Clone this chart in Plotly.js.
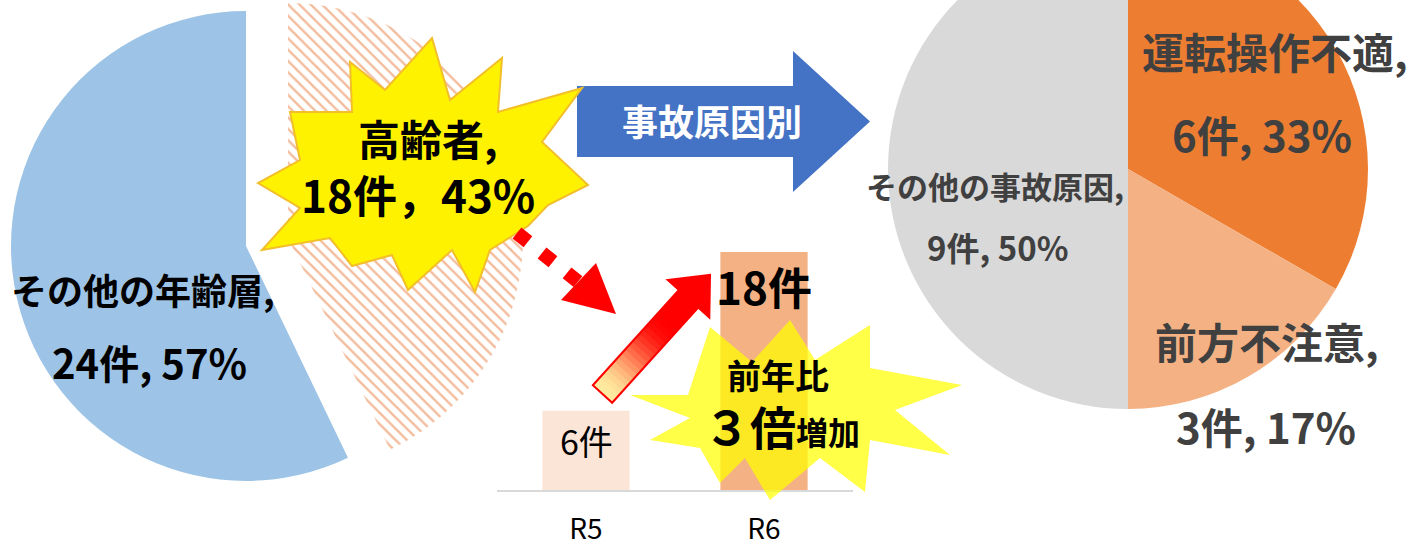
<!DOCTYPE html>
<html><head><meta charset="utf-8">
<script src="https://cdn.plot.ly/plotly-3.0.1.min.js"></script>
<style>
html,body{margin:0;padding:0;overflow:hidden;background:#fff;width:1423px;height:547px;position:relative}
#chart{position:absolute;left:0;top:-80px;width:1423px;height:627px}
</style>
</head><body><div id="chart"></div>
<script>
// ---- data ----
const ageLabels = ['高齢者', 'その他の年齢層'];
const ageValues = [18, 24];
const yearCategories = ['R5', 'R6'];
const elderlyByYear = [6, 18];
const causeLabels = ['運転操作不適', '前方不注意', 'その他の事故原因'];
const causeValues = [6, 3, 9];
const unitLabel = '件';
const arrowLabel = '事故原因別';
const ratioLabel1 = '前年比';
const ratioNumber = '３倍';
const ratioLabel2 = '増加';

// ---- helpers (pixel -> paper) ----
const W = 1423, H = 627, OFF = 80;
const px = x => x / W;
const py = y => 1 - (y + OFF) / H;
const dom = (cx, cy, r) => ({x: [px(cx - r), px(cx + r)], y: [py(cy + r), py(cy - r)]});
const pathOf = pts => 'M ' + pts.map(p => px(p[0]).toFixed(5) + ',' + py(p[1]).toFixed(5)).join(' L ') + ' Z';
const pct = (v, arr) => Math.round(100 * v / arr.reduce((a, b) => a + b, 0));
const FONT = '"Noto Sans CJK JP", "Noto Sans", sans-serif';

const traces = [
  { // その他の年齢層 (blue)
    type: 'pie', labels: ageLabels, values: ageValues, sort: false, direction: 'clockwise', rotation: 0,
    marker: {colors: ['rgba(0,0,0,0)', '#9dc3e6'], line: {width: 0}},
    textinfo: 'none', hoverinfo: 'none', domain: dom(246, 246, 235), showlegend: false
  },
  { // 高齢者 (hatched, pulled out)
    type: 'pie', labels: ageLabels, values: ageValues, sort: false, direction: 'clockwise', rotation: 0,
    marker: {colors: ['#ffffff', 'rgba(0,0,0,0)'], line: {width: 0},
      pattern: {shape: ['\\', ''], fgcolor: ['#f3bc9c', 'rgba(0,0,0,0)'], size: 8, solidity: 0.3}},
    textinfo: 'none', hoverinfo: 'none', domain: dom(288, 238, 235), showlegend: false
  },
  { // cause pie
    type: 'pie', labels: causeLabels, values: causeValues, sort: false, direction: 'clockwise', rotation: 0,
    marker: {colors: ['#ed7d31', '#f4b183', '#d9d9d9'], line: {width: 0}},
    textinfo: 'none', hoverinfo: 'none', domain: dom(1128, 169, 240), showlegend: false
  },
  { // yearly bars
    type: 'bar', x: yearCategories, y: elderlyByYear, width: 0.49,
    marker: {color: ['#fbe5d6', '#f4b183']}, hoverinfo: 'none', showlegend: false
  }
];

// ---- decorative shapes ----
const star1 = [[432,38],[450,100],[502,58],[498,112],[582,88],[542,142],[588,185],[548,205],[528,226],
  [490,250],[475,292],[452,250],[408,290],[392,255],[352,266],[330,238],[262,250],[300,208],[258,183],
  [300,160],[290,112],[352,112],[350,62],[385,90]];
const star2 = [[630,395],[688,395],[710,327],[752,362],[790,320],[815,360],[870,325],[870,368],[962,385],
  [895,410],[950,455],[870,440],[865,492],[820,458],[770,500],[745,458],[720,483],[700,448],[650,440],[690,418]];
const blueArrow = [[577,86],[793,86],[793,51],[870,121.5],[793,192],[793,157],[577,157]];
const redHead = [[561,300],[596,263],[616,314]];

// gradient arrow (tail -> tip)
const tail = [602.5, 394], tip = [710, 275];
const L = Math.hypot(tip[0]-tail[0], tip[1]-tail[1]);
const u = [(tip[0]-tail[0])/L, (tip[1]-tail[1])/L];
const n = [-u[1], u[0]];
const at = (t, w) => [tail[0] + u[0]*t + n[0]*w, tail[1] + u[1]*t + n[1]*w];
const headT = L - 32, sw = 13, hw = 28;
const shapes = [];
shapes.push({type: 'path', xref: 'paper', yref: 'paper', path: pathOf(blueArrow), fillcolor: '#4472c4', line: {width: 0}});
shapes.push({type: 'path', xref: 'paper', yref: 'paper', path: pathOf(star1), fillcolor: '#fff200', line: {color: '#f2bf2a', width: 2}});
shapes.push({type: 'line', xref: 'paper', yref: 'paper', x0: px(517), y0: py(233), x1: px(586), y1: py(288),
  line: {color: '#ff0000', width: 14, dash: '14px,18px'}});
shapes.push({type: 'path', xref: 'paper', yref: 'paper', path: pathOf(redHead), fillcolor: '#ff0000', line: {width: 0}});
shapes.push({type: 'path', xref: 'paper', yref: 'paper', path: pathOf(star2), fillcolor: 'rgba(255,255,0,0.72)', line: {width: 0}});
const c0 = [255, 236, 160], c1 = [255, 0, 0];
const NSEG = 24;
for (let i = 0; i < NSEG; i++) {
  const t0 = headT * i / NSEG, t1 = headT * (i + 1) / NSEG + 0.8;
  let f = Math.min(1, ((i + 0.5) / NSEG) / 0.75);
  f = f * f * (3 - 2 * f);
  const c = c0.map((v, k) => Math.round(v + (c1[k] - v) * f));
  shapes.push({type: 'path', xref: 'paper', yref: 'paper', path: pathOf([at(t0, -sw), at(t1, -sw), at(t1, sw), at(t0, sw)]),
    fillcolor: `rgb(${c.join(',')})`, line: {width: 0}});
}
const arrowOutline = [at(0, -sw), at(headT, -sw), at(headT, -hw), at(L, 0), at(headT, hw), at(headT, sw), at(0, sw)];
shapes.push({type: 'path', xref: 'paper', yref: 'paper', path: pathOf([at(headT, -hw), at(L, 0), at(headT, hw)]), fillcolor: '#ff0000', line: {width: 0}});
shapes.push({type: 'path', xref: 'paper', yref: 'paper', path: pathOf(arrowOutline), fillcolor: 'rgba(0,0,0,0)', line: {color: '#ff0000', width: 2}});

// ---- text ----
const ann = (x, y, text, size, color, weight) => ({xref: 'paper', yref: 'paper', x: px(x), y: py(y), text: text,
  showarrow: false, xanchor: 'center', yanchor: 'middle', font: {family: FONT, size: size, color: color, weight: weight || 'bold'}});
const annotations = [
  ann(143, 289, ageLabels[1] + ',', 36, '#000'),
  ann(149, 362, ageValues[1] + unitLabel + ', ' + pct(ageValues[1], ageValues) + '%', 40, '#000'),
  ann(428, 137, ageLabels[0] + ',', 42, '#000'),
  ann(418, 194, ageValues[0] + unitLabel + '，' + pct(ageValues[0], ageValues) + '%', 44, '#000'),
  ann(712, 120, arrowLabel, 36, '#ffffff'),
  ann(1275, 50, causeLabels[0] + ',', 42, '#404040'),
  ann(1262, 133, causeValues[0] + unitLabel + ', ' + pct(causeValues[0], causeValues) + '%', 42, '#404040'),
  ann(1267, 340, causeLabels[1] + ',', 42, '#404040'),
  ann(1266, 425, causeValues[1] + unitLabel + ', ' + pct(causeValues[1], causeValues) + '%', 42, '#404040'),
  ann(995, 185, causeLabels[2] + ',', 31, '#404040'),
  ann(997, 247, causeValues[2] + unitLabel + ', ' + pct(causeValues[2], causeValues) + '%', 33, '#404040'),
  ann(778, 374, ratioLabel1, 34, '#000'),
  {xref: 'paper', yref: 'paper', x: px(782), y: py(425), showarrow: false, xanchor: 'center', yanchor: 'middle',
    text: `<span style="font-size:46px">${ratioNumber}</span><span style="font-size:32px">${ratioLabel2}</span>`,
    font: {family: FONT, size: 46, color: '#000', weight: 'bold'}},
  {xref: 'x', yref: 'y', x: yearCategories[0], y: elderlyByYear[0] / 2, yshift: 10, text: elderlyByYear[0] + unitLabel,
    showarrow: false, font: {family: FONT, size: 34, color: '#000', weight: 'normal'}},
  {xref: 'x', yref: 'y', x: yearCategories[1], y: elderlyByYear[1], yanchor: 'top', yshift: 0, text: elderlyByYear[1] + unitLabel,
    showarrow: false, font: {family: FONT, size: 44, color: '#000', weight: 'bold'}}
];

const layout = {
  width: W, height: H, margin: {l: 0, r: 0, t: 0, b: 0},
  paper_bgcolor: '#ffffff', plot_bgcolor: 'rgba(0,0,0,0)', showlegend: false,
  xaxis: {domain: [px(497), px(853)], type: 'category', range: [-0.5, 1.5], showline: true, linecolor: '#d9d9d9', linewidth: 1.5,
    showgrid: false, zeroline: false, ticks: '', ticklabelstandoff: 14, tickfont: {family: FONT, size: 28, color: '#000'}, fixedrange: true},
  yaxis: {domain: [py(490), py(490 - 20 * 238 / 18)], range: [0, 20], visible: false, fixedrange: true},
  shapes: shapes, annotations: annotations
};
Plotly.newPlot('chart', traces, layout, {staticPlot: true, displayModeBar: false});
</script></body></html>
